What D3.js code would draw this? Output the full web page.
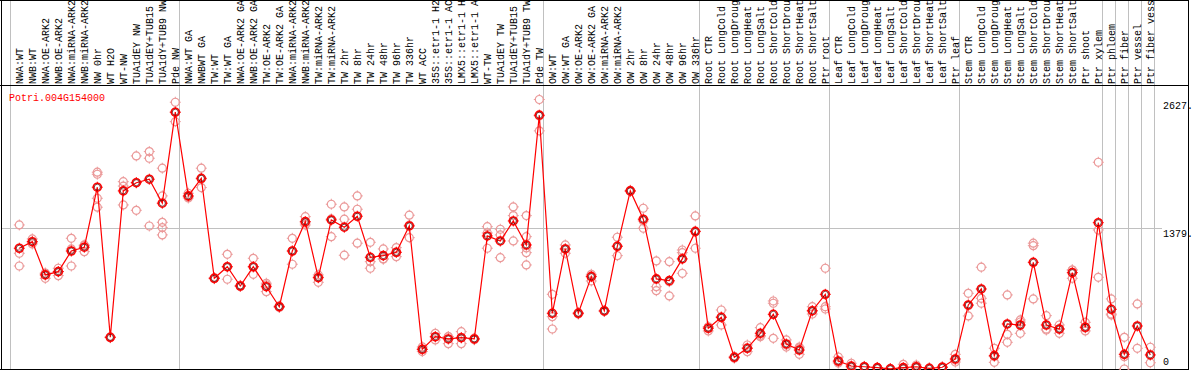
<!DOCTYPE html>
<html lang="en">
<head>
<meta charset="utf-8">
<title>Potri.004G154000</title>
<script src="https://cdn.jsdelivr.net/npm/d3@7"></script>
<style>
body { margin: 0; background: #fff; }
text { font-family: "Liberation Mono", "DejaVu Sans Mono", monospace; font-size: 10px; }
</style>
</head>
<body>
<script>

var gene = "Potri.004G154000";

var labels = ["NWA:WT", "NWB:WT", "NWA:OE-ARK2", "NWB:OE-ARK2", "NWA:miRNA-ARK2", "NWB:miRNA-ARK2",
  "NW 0hr", "WT H2O", "WT-NW", "TUA1dEY NW", "TUA1dEY+TUB15 NW", "TUA1dY+TUB9 NW", "Pde NW",
  "NWA:WT GA", "NWBWT GA", "TW:WT", "TW:WT GA", "NWA:OE-ARK2 GA", "NWB:OE-ARK2 GA", "TW:OE-ARK2",
  "TW:OE-ARK2 GA", "NWA:miRNA-ARK2", "NWB:miRNA-ARK2", "TW:miRNA-ARK2", "TW:miRNA-ARK2",
  "TW 2hr", "TW 8hr", "TW 24hr", "TW 48hr", "TW 96hr", "TW 336hr", "WT ACC",
  "35S::etr1-1 H2O", "35S::etr1-1 ACC", "LMX5::etr1-1 H2O", "LMX5::etr1-1 ACC",
  "WT-TW", "TUA1dEY TW", "TUA1dEY+TUB15 TW", "TUA1dY+TUB9 TW", "Pde TW",
  "OW:WT", "OW:WT GA", "OW:OE-ARK2", "OW:OE-ARK2 GA", "OW:miRNA-ARK2", "OW:miRNA-ARK2",
  "OW 2hr", "OW 8hr", "OW 24hr", "OW 48hr", "OW 96hr", "OW 336hr",
  "Root CTR", "Root LongCold", "Root LongDrought", "Root LongHeat", "Root LongSalt",
  "Root ShortCold", "Root ShortDrought", "Root ShortHeat", "Root ShortSalt", "Ptr root",
  "Leaf CTR", "Leaf LongCold", "Leaf LongDrought", "Leaf LongHeat", "Leaf LongSalt",
  "Leaf ShortCold", "Leaf ShortDrought", "Leaf ShortHeat", "Leaf ShortSalt", "Ptr leaf",
  "Stem CTR", "Stem LongCold", "Stem LongDrought", "Stem LongHeat", "Stem LongSalt",
  "Stem ShortCold", "Stem ShortDrought", "Stem ShortHeat", "Stem ShortSalt", "Ptr shoot",
  "Ptr xylem", "Ptr phloem", "Ptr fiber", "Ptr vessel", "Ptr fiber vessel"];

// mean expression per sample
var means = [1177, 1241, 917, 949, 1150, 1187, 1772, 309, 1736, 1816,
  1850, 1616, 2503, 1687, 1859, 884, 997, 809, 997, 802,
  607, 1150, 1436, 890, 1453, 1382, 1489, 1089, 1105, 1138,
  1394, 192, 315, 293, 305, 293, 1297, 1248, 1443, 1209,
  2474, 543, 1170, 543, 900, 566, 1196, 1736, 1460, 878,
  861, 1073, 1339, 397, 504, 114, 202, 348, 533, 244,
  185, 568, 728, 78, 29, 22, 13, 2, 13, 22,
  7, 17, 98, 624, 780, 130, 439, 429, 1040, 429,
  390, 939, 407, 1426, 582, 143, 419, 137];

// replicate values per sample
var reps = [[1404,1128,1004],[1268,1238,1219],[935,884,932],[982,910,949],[1274,1170,1004],
  [1209,1144,1204],[1918,1898,1664,1577],[305,312,310],[1826,1599,1783],[2077,1547,1816],
  [2119,2054,1394],[1957,1687,1430,1378,1307],[2600,2411,2503],[1713,1667,1680],[1957,1768,1852],
  [884,880,890],[1118,875,995],[809,805,815],[1079,923,995],[836,754,819],
  [600,615,607],[1274,1021,1150],[1485,1404,1424],[917,845,897],[1606,1290,1463],
  [1580,1460,1109],[1687,1557,1226],[1235,1046,982],[1170,1073,1072],[1183,1095,1136],
  [1499,1280,1402],[192,170,215],[348,312,283],[315,247,317],[364,247,305],
  [300,285,293],[1387,1177,1326],[1362,1085,1307],[1580,1495,1248],[1495,1290,1180,1134,1014],
  [2627,2321,2467],[728,510,390],[1209,1128,1170],[543,535,550],[923,858,907],
  [566,560,572],[1284,1105,1199],[1736,1730,1742],[1567,1372,1443],[1053,802,763],
  [1046,851,712],[1160,1134,933],[1492,1177,1346],[412,371,409],[575,429,507],
  [114,105,123],[234,169,205],[403,315,327],[663,641,299],[283,214,234],
  [143,205,214],[607,536,565],[982,607,585],[58,117,68],[56,13,24],
  [22,18,26],[13,10,16],[2,0,5],[46,0,0],[39,10,20],
  [5,8,9],[15,18,20],[143,68,88],[738,517,617],[992,689,641],
  [202,65,122],[722,338,260],[478,348,458],[1226,1202,683],[520,380,390],
  [429,348,390],[965,884,965],[455,371,400],[2015,1355,894],[683,527,536],
  [309,120,0],[634,202],[212,61]];

// sample indices that start a new group (vertical separators)
var groupStarts = [0, 13, 41, 53, 63, 73, 84, 85, 86, 87, 88];
var maxVal = 2627;
var midVal = 1379;

var w = 1194, h = 370;
var plotTop = 86, plotBottom = 369;
var labelChars = 14; // room above the plot for this many characters

var svg = d3.select("body").append("svg")
  .attr("width", w)
  .attr("height", h);

var x = d3.scaleBand()
  .domain(d3.range(labels.length))
  .range([10, 10 + 13 * labels.length])
  .padding(0);

function px(i) { return x(i) + 9.3; }

var y = d3.scaleLinear()
  .domain([0, maxVal * 1.05])
  .range([plotBottom, plotTop]);

// grid lines
function gx(d) {
  return d < labels.length ? x(d) + 0.5 : x(labels.length - 1) + x.bandwidth() + 0.5;
}
svg.selectAll("line.vgrid")
  .data(groupStarts)
  .enter()
  .append("line")
  .attr("class", "vgrid")
  .attr("x1", gx)
  .attr("x2", gx)
  .attr("y1", 0)
  .attr("y2", h)
  .attr("stroke", "#c0c0c0")
  .attr("stroke-width", 1);

svg.append("line")
  .attr("x1", 1).attr("x2", 1162)
  .attr("y1", Math.round(y(midVal)) + 0.5)
  .attr("y2", Math.round(y(midVal)) + 0.5)
  .attr("stroke", "#c0c0c0");

// frame
svg.append("line").attr("x1", 0).attr("x2", 1189).attr("y1", 0.5).attr("y2", 0.5).attr("stroke", "#000");
svg.append("line").attr("x1", 0).attr("x2", 1189).attr("y1", plotTop - 0.5).attr("y2", plotTop - 0.5).attr("stroke", "#000");
svg.append("line").attr("x1", 0).attr("x2", 1189).attr("y1", plotBottom + 0.5).attr("y2", plotBottom + 0.5).attr("stroke", "#000");
svg.append("line").attr("x1", 1.5).attr("x2", 1.5).attr("y1", 0).attr("y2", h).attr("stroke", "#000");
svg.append("line").attr("x1", 1188.5).attr("x2", 1188.5).attr("y1", 0).attr("y2", h).attr("stroke", "#000");

// sample labels (shortened to the space above the plot)
svg.selectAll("text.sample")
  .data(labels)
  .enter()
  .append("text")
  .attr("class", "sample")
  .attr("transform", function(d, i) {
    return "translate(" + (px(i) + 4) + "," + 84 + ") rotate(-90)";
  })
  .attr("fill", "#000")
  .text(function(d) { return d.slice(0, labelChars).replace(/\s+$/, ""); });

// right side value labels
var yLabels = [
  { v: maxVal, t: maxVal + ".", dy: 10 },
  { v: midVal, t: midVal + ".", dy: 9 },
  { v: 0, t: "0", dy: -4 }
];
svg.selectAll("text.ylab")
  .data(yLabels)
  .enter()
  .append("text")
  .attr("class", "ylab")
  .attr("x", 1163)
  .attr("y", function(d) { return y(d.v) + d.dy; })
  .attr("fill", "#000")
  .text(function(d) { return d.t; });

// gene name
svg.append("text")
  .attr("x", 9)
  .attr("y", 100.5)
  .attr("fill", "#ff0000")
  .text(gene);

// marker: circle with small ticks
function marker(g, color, width) {
  g.append("circle")
    .attr("r", 4)
    .attr("fill", "none")
    .attr("stroke", color)
    .attr("stroke-width", width);
  [[0, -1], [0, 1], [-1, 0], [1, 0]].forEach(function(d) {
    g.append("line")
      .attr("x1", d[0] * 3.5).attr("y1", d[1] * 3.5)
      .attr("x2", d[0] * 5.5).attr("y2", d[1] * 5.5)
      .attr("stroke", color)
      .attr("stroke-width", 1);
  });
}

// replicates
var repPts = [];
reps.forEach(function(r, i) {
  r.forEach(function(v) { repPts.push({ i: i, v: v }); });
});

svg.selectAll("g.rep")
  .data(repPts)
  .enter()
  .append("g")
  .attr("class", "rep")
  .attr("transform", function(d) { return "translate(" + px(d.i) + "," + y(d.v) + ")"; })
  .each(function() { marker(d3.select(this), "#eb9a9a", 1.2); });

// mean line
var line = d3.line()
  .x(function(d, i) { return px(i); })
  .y(function(d) { return y(d); });

svg.append("path")
  .datum(means)
  .attr("d", line)
  .attr("fill", "none")
  .attr("stroke", "#ff0000")
  .attr("stroke-width", 1.2);

// means
svg.selectAll("g.mean")
  .data(means)
  .enter()
  .append("g")
  .attr("class", "mean")
  .attr("transform", function(d, i) { return "translate(" + px(i) + "," + y(d) + ")"; })
  .each(function() {
    var g = d3.select(this);
    marker(g, "#ff0000", 1.6);
    g.append("circle")
      .attr("r", 3)
      .attr("fill", "none")
      .attr("stroke", "#500000")
      .attr("stroke-width", 0.7);
  });

</script>
</body>
</html>
